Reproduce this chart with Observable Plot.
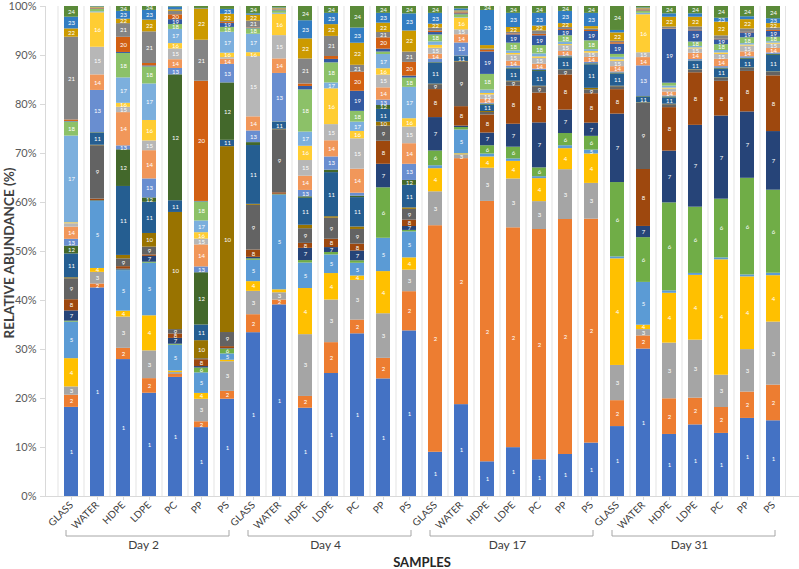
<!DOCTYPE html>
<html><head><meta charset="utf-8">
<script src="https://cdn.jsdelivr.net/npm/d3@7"></script>
<script src="https://cdn.jsdelivr.net/npm/@observablehq/plot@0.6"></script>
<style>
html,body{margin:0;padding:0;background:#fff;}
#chart{width:799px;height:569px;overflow:hidden;}
</style></head><body><div id="chart"></div>
<script>
const days = ["Day 2", "Day 4", "Day 17", "Day 31"];
const materials = ["GLASS", "WATER", "HDPE", "LDPE", "PC", "PP", "PS"];
const otuLabels = ["1","2","3","4","5","6","7","8","9","10","11","12","13","14","15","16","17","18","19","20","21","22","23","24"];
const otuColors = ["#4472C4","#ED7D31","#A5A5A5","#FFC000","#5B9BD5","#70AD47","#264478","#9E480E","#636363","#997300","#255E91","#43682B","#698ED0","#F1975A","#B7B7B7","#FFCD33","#7CAFDD","#8CC168","#335AA1","#D26012","#848484","#CC9A00","#327DC2","#5A8A39"];
const yTicks = [0, 0.1, 0.2, 0.3, 0.4, 0.5, 0.6, 0.7, 0.8, 0.9, 1];

// relative abundance (%) of OTUs 1..24, per sample
const day2GLASS = [18.3,2.5,1.7,5.8,7.5,0.2,2.1,2.3,4.3,0.2,4.9,1.6,1.4,2.5,0.7,0.2,17.8,2.9,0.1,0.3,17.0,1.7,2.4,2.2];
const day2WATER = [43.0,0.8,2.4,0.8,13.8,0.1,0.1,0.3,11.0,0.1,2.5,0.1,8.7,3.2,5.7,7.1,0.2,0.5,0.1,0.1,0.1,0.1,0.1,0.1];
const day2HDPE  = [28.0,2.3,6.4,1.2,8.3,0.1,0.2,0.5,1.6,0.7,14.1,7.5,0.8,6.8,1.1,0.8,5.2,5.0,0.2,3.1,2.8,0.9,1.6,1.0];
const day2LDPE  = [21.2,3.0,5.7,7.2,10.8,0.2,1.2,0.3,1.6,2.8,6.4,0.9,3.9,5.8,2.0,4.2,7.5,3.5,0.2,0.5,6.5,2.4,2.0,0.8];
const day2PC    = [24.4,0.6,0.4,0.3,5.3,0.2,1.2,0.9,0.9,24.0,2.4,25.8,1.3,1.8,2.2,1.1,2.9,1.0,1.0,1.0,0.7,0.3,0.6,0.1];
const day2PP    = [14.1,1.2,4.6,1.2,4.2,1.0,0.3,1.4,0.2,3.7,3.2,10.7,1.2,4.5,1.2,1.3,2.4,3.9,0.1,24.6,8.4,6.4,0.1,0.4];
const day2PS    = [20.0,1.6,6.1,0.3,1.3,1.0,0.1,0.4,2.9,38.2,1.3,11.8,3.8,1.1,0.3,0.9,4.3,1.0,0.8,0.2,0.2,1.5,1.0,0.6];
const day4GLASS = [33.7,3.7,4.8,2.0,4.4,0.3,0.3,1.5,9.2,0.2,12.1,0.6,2.4,2.9,12.4,0.8,3.8,1.1,0.1,0.1,1.4,1.2,0.3,1.5];
const day4WATER = [39.5,1.0,1.5,0.6,19.5,0.1,0.1,0.3,13.0,0.1,1.4,0.1,10.0,3.0,4.8,4.4,0.2,0.5,0.1,0.1,0.2,0.1,0.1,0.3];
const day4HDPE  = [18.0,2.4,12.6,9.4,5.2,0.5,2.5,1.0,3.0,0.7,5.5,0.3,1.3,2.9,3.2,2.9,2.9,8.6,0.7,0.5,5.1,4.1,3.7,2.9];
const day4LDPE  = [25.1,6.3,8.7,5.4,3.8,0.5,1.0,1.7,4.3,0.3,9.0,0.5,2.7,3.3,3.3,7.3,1.2,4.1,0.7,0.6,4.1,2.4,2.3,1.4];
const day4PC    = [33.2,2.8,8.1,0.9,2.6,0.5,2.0,1.4,3.0,0.5,6.0,0.3,0.6,4.9,6.2,1.5,1.9,2.2,4.1,3.9,1.4,4.5,3.1,4.4];
const day4PP    = [24.0,4.2,9.1,8.6,6.8,10.3,4.8,4.7,3.1,0.8,2.6,0.8,1.1,2.5,2.6,1.3,2.9,0.5,0.6,2.3,1.1,1.9,2.0,1.4];
const day4PS    = [33.8,8.0,4.4,2.5,5.3,0.3,0.8,1.3,2.2,0.3,4.6,1.0,3.3,4.2,3.4,1.7,6.4,1.9,0.4,2.8,2.1,4.3,3.5,1.5];
const day17GLASS = [9.0,46.1,6.9,4.7,0.6,3.0,6.8,5.7,1.0,0.1,4.3,0.1,0.7,1.0,1.2,0.6,0.7,1.4,0.5,0.3,0.6,0.8,2.2,1.4];
const day17WATER = [18.9,50.6,0.8,0.2,4.9,0.5,0.3,4.0,9.2,0.1,1.0,0.1,2.7,1.7,1.0,2.4,0.1,0.6,0.2,0.2,0.2,0.2,0.4,0.5];
const day17HDPE  = [7.1,53.3,6.8,2.3,0.6,1.7,2.6,3.7,0.5,0.2,1.3,0.2,0.2,0.8,0.9,0.3,0.7,3.2,4.6,0.3,0.3,0.7,7.2,0.8];
const day17LDPE  = [10.0,45.0,10.0,3.6,0.5,2.4,4.7,7.8,0.9,0.1,2.5,0.2,0.4,1.0,1.3,0.3,0.5,1.6,1.7,0.2,0.3,1.0,2.9,1.4];
const day17PC    = [7.5,47.1,5.7,4.7,0.4,1.8,9.2,6.1,1.3,0.1,3.0,0.2,0.3,1.0,1.2,0.3,0.6,1.7,2.0,0.3,0.7,1.0,2.6,1.4];
const day17PP    = [8.6,48.1,10.2,4.3,0.6,2.5,4.8,7.2,0.9,0.1,2.5,0.2,0.2,0.9,1.2,0.2,0.5,1.3,1.1,0.2,0.4,0.8,2.5,1.0];
const day17PS    = [10.9,45.7,7.3,6.0,0.8,2.8,2.7,6.0,0.8,0.3,4.8,0.2,0.3,1.0,0.9,0.3,0.4,1.8,1.9,0.2,0.3,0.5,2.7,1.4];
const day31GLASS = [14.3,5.3,7.2,21.8,0.4,15.2,14.0,5.0,0.6,0.1,2.5,0.2,0.2,1.1,1.1,0.3,0.5,0.6,2.1,0.3,0.3,1.7,0.5,4.9];
const day31WATER = [30.3,2.7,1.3,0.9,8.8,9.2,2.3,11.7,13.6,0.1,1.2,0.1,6.3,1.7,1.0,7.8,0.3,0.4,0.1,0.2,0.2,0.1,0.1,0.3];
const day31HDPE  = [12.7,7.3,11.4,10.2,0.5,18.0,10.6,8.9,0.6,0.1,1.3,0.2,0.2,0.8,0.6,0.2,0.4,0.6,11.0,0.1,0.4,2.0,0.7,1.5];
const day31LDPE  = [14.7,5.5,11.9,13.3,0.4,13.6,16.8,10.8,0.5,0.1,1.7,0.1,0.3,1.3,0.9,0.2,0.3,0.9,2.3,0.1,0.7,2.0,0.7,1.5];
const day31PC    = [12.9,5.3,6.6,23.6,0.4,12.0,17.0,7.1,0.6,0.1,1.8,0.2,0.3,1.5,1.0,0.3,0.5,1.2,1.0,0.1,0.7,2.8,0.8,2.4];
const day31PP    = [16.0,5.4,8.7,14.9,0.4,19.8,13.6,8.3,0.6,0.1,1.8,0.2,0.3,1.0,1.2,0.2,0.3,1.2,1.0,0.1,0.7,1.9,0.6,2.1];
const day31PS    = [15.5,7.3,12.9,9.5,0.5,17.0,12.0,11.4,0.7,0.1,3.4,0.2,0.3,0.9,0.9,0.2,0.3,0.9,1.2,0.2,0.5,0.9,1.0,2.5];

const abundance = [
  day2GLASS, day2WATER, day2HDPE, day2LDPE, day2PC, day2PP, day2PS,
  day4GLASS, day4WATER, day4HDPE, day4LDPE, day4PC, day4PP, day4PS,
  day17GLASS, day17WATER, day17HDPE, day17LDPE, day17PC, day17PP, day17PS,
  day31GLASS, day31WATER, day31HDPE, day31LDPE, day31PC, day31PP, day31PS
];

const samples = [];
days.forEach(d => materials.forEach(m => samples.push({key: d + " " + m, day: d, material: m})));
const sampleKeys = samples.map(s => s.key);
const materialOf = Object.fromEntries(samples.map(s => [s.key, s.material]));

const data = [];
samples.forEach((s, si) => abundance[si].forEach((v, oi) => data.push({sample: s.key, otu: otuLabels[oi], value: v})));

const font = "Lato, 'Open Sans', sans-serif";

const plot = Plot.plot({
  width: 799, height: 569,
  marginLeft: 45, marginRight: 0, marginTop: 6, marginBottom: 73,
  style: {fontFamily: font, background: "#fff", overflow: "visible"},
  x: {domain: sampleKeys, paddingInner: 0.443, paddingOuter: 0.223, label: null},
  y: {domain: [0, 1], label: null},
  color: {domain: otuLabels, range: otuColors},
  marks: [
    Plot.barY(data, Plot.stackY({x: "sample", y: "value", z: "otu", fill: "otu", offset: "normalize", order: null})),
    Plot.text(data, Plot.stackY({x: "sample", y: "value", z: "otu", offset: "normalize", order: null,
      text: d => d.value >= 0.8 ? d.otu : "", fill: "white", fontSize: 6})),
    Plot.frame({anchor: "left", stroke: "#d9d9d9"}),
    Plot.frame({anchor: "bottom", stroke: "#d9d9d9"}),
    Plot.axisY({ticks: yTicks, tickFormat: d3.format(".0%"), tickSize: 5, tickPadding: 4, fontSize: 11,
      fill: "#595959", stroke: "#d9d9d9", label: null}),
    Plot.axisX({tickFormat: k => materialOf[k], tickRotate: -45, tickSize: 4, tickPadding: 3, fontSize: 10,
      fill: "#404040", stroke: "#d9d9d9", label: null})
  ]
});

const svg = d3.select(plot);
const xs = plot.scale("x");
const bw = xs.bandwidth, step = xs.step;
const plotTop = 6, plotBottom = 496;

// vertical separators between categories (behind everything)
const grid = svg.insert("g", ":first-child").attr("stroke", "#e3e3e3").attr("stroke-width", 1);
sampleKeys.forEach((k, i) => {
  const x0 = xs.apply(k) - (step - bw) / 2;
  grid.append("line").attr("x1", x0).attr("x2", x0).attr("y1", plotTop).attr("y2", plotBottom);
  if (i === sampleKeys.length - 1) {
    const x1 = xs.apply(k) + bw + (step - bw) / 2 - 0.5;
    grid.append("line").attr("x1", x1).attr("x2", x1).attr("y1", plotTop).attr("y2", plotBottom);
  }
});

// day brackets and labels
const g = svg.append("g");
days.forEach(d => {
  const keys = samples.filter(s => s.day === d).map(s => s.key);
  const c0 = xs.apply(keys[0]) + bw / 2 - 5;
  const c1 = xs.apply(keys[keys.length - 1]) + bw / 2 + 2;
  g.append("path").attr("d", `M${c0},530 V536 H${c1} V530`).attr("fill", "none").attr("stroke", "#a6a6a6").attr("stroke-width", 1);
  g.append("text").attr("x", (c0 + c1) / 2 - 4).attr("y", 549).attr("text-anchor", "middle")
    .attr("font-family", font).attr("font-size", 12).attr("fill", "#404040").text(d);
});
g.append("text").attr("x", 422).attr("y", 567).attr("text-anchor", "middle")
  .attr("font-family", font).attr("font-size", 13).attr("font-weight", "bold").attr("fill", "#262626").text("SAMPLES");
g.append("text").attr("transform", "translate(14,253) rotate(-90)").attr("text-anchor", "middle")
  .attr("font-family", font).attr("font-size", 13.5).attr("font-weight", "bold").attr("fill", "#404040").text("RELATIVE ABUNDANCE (%)");

document.getElementById("chart").appendChild(plot);
</script></body></html>
